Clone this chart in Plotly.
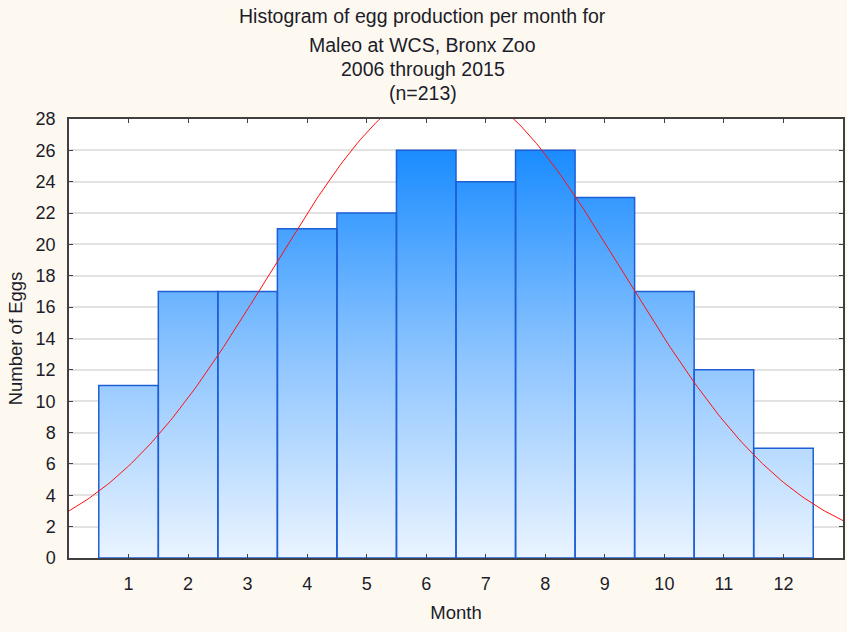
import math
import plotly.graph_objects as go

# ---- data ----
months = [1, 2, 3, 4, 5, 6, 7, 8, 9, 10, 11, 12]
eggs = [11, 17, 17, 21, 22, 26, 24, 26, 23, 17, 12, 7]
month_ticks = [str(m) for m in months]
title_lines = ["Histogram of egg production per month for",
               "Maleo at WCS, Bronx Zoo",
               "2006 through 2015",
               "(n=213)"]

# ---- histogram rectangles (from data, bin width 1) ----
rx, ry = [], []
for m, c in zip(months, eggs):
    rx += [m - 0.5, m - 0.5, m + 0.5, m + 0.5, m - 0.5, None]
    ry += [0, c, c, 0, 0, None]

# ---- normal fit from the counts ----
N = sum(eggs)
mean = sum(m * c for m, c in zip(months, eggs)) / N
var = sum(c * (m - mean) ** 2 for m, c in zip(months, eggs)) / (N - 1)
sd = math.sqrt(var)
cx = [i * 0.05 for i in range(0, 261)]
cy = [N / (sd * math.sqrt(2 * math.pi)) * math.exp(-0.5 * ((x - mean) / sd) ** 2) for x in cx]

FONT = "Liberation Sans, Arial, sans-serif"
TXT = "#1c1c2a"

fig = go.Figure()
fig.add_trace(go.Scatter(
    x=rx, y=ry, mode="lines", fill="toself",
    line=dict(color="#1E5FD6", width=1.5),
    fillgradient=dict(type="vertical", start=0, stop=26,
                      colorscale=[[0, "#EAF4FF"], [0.5, "#8CC4FF"], [1, "#1A8CFF"]]),
    hoverinfo="skip", showlegend=False))
fig.add_trace(go.Scatter(
    x=cx, y=cy, mode="lines", line=dict(color="#FF1010", width=1),
    hoverinfo="skip", showlegend=False))

# title lines
pb, pt = 557.7, 119.0
ph = pb - pt
for txt, py in zip(title_lines, [16, 45, 69, 93]):
    fig.add_annotation(text=txt, xref="paper", yref="paper",
                       x=(423.5 - 69) / (845 - 69), y=(pb - py) / ph,
                       xanchor="center", yanchor="middle", showarrow=False,
                       font=dict(family=FONT, size=19.5, color=TXT))

fig.update_layout(
    width=847, height=632,
    margin=dict(l=69, r=2, t=119, b=74),
    paper_bgcolor="#FEF9F0", plot_bgcolor="#FFFFFF",
    font=dict(family=FONT, size=18, color=TXT),
    showlegend=False,
)
fig.update_xaxes(
    range=[0, 13], tickmode="array", tickvals=months, ticktext=month_ticks,
    showgrid=False, zeroline=False,
    showline=True, linecolor="#404040", linewidth=1.5, mirror="ticks",
    ticks="inside", ticklen=4, tickcolor="#404040", tickwidth=1,
    ticklabelstandoff=9,
    title=dict(text="Month", standoff=13, font=dict(size=18.5)),
)
fig.update_yaxes(
    range=[0, 28], tickmode="linear", tick0=0, dtick=2,
    showgrid=True, gridcolor="#E2E2E2", gridwidth=1.5, zeroline=False,
    showline=True, linecolor="#404040", linewidth=1.5, mirror="ticks",
    ticks="inside", ticklen=4, tickcolor="#404040", tickwidth=1,
    ticklabelstandoff=8,
    title=dict(text="Number of Eggs", standoff=8, font=dict(size=18.5)),
)

fig.write_html("out.html", config={"displayModeBar": False},
               post_script="document.body.style.margin='0';document.body.style.overflow='hidden';")
